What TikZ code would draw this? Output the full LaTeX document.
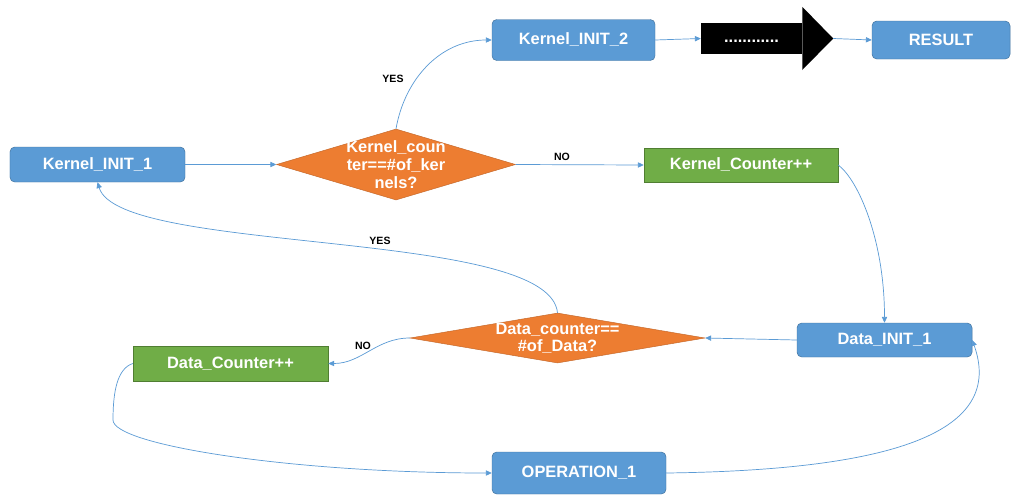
\documentclass[tikz,border=0pt]{standalone}
\usepackage{fontspec}
\setmainfont{Liberation Sans}
\usetikzlibrary{arrows.meta,shapes.geometric}
\definecolor{boxblue}{HTML}{5B9BD5}
\definecolor{boxblueline}{HTML}{41719C}
\definecolor{boxgreen}{HTML}{70AD47}
\definecolor{boxgreenline}{HTML}{507E32}
\definecolor{testorange}{HTML}{ED7D31}
\definecolor{testorangeline}{HTML}{C5682A}
\definecolor{flow}{HTML}{5B9BD5}
\newcommand{\boxfont}{\fontsize{14}{15.3}\selectfont\bfseries}

\begin{document}
\begin{tikzpicture}[x=0.03cm, y=-0.03cm,
  initbox/.style={draw=boxblueline, fill=boxblue, rounded corners=4pt, text=white, font=\boxfont, inner sep=0pt},
  countbox/.style={draw=boxgreenline, fill=boxgreen, text=white, font=\boxfont, inner sep=0pt},
  test/.style={diamond, draw=testorangeline, fill=testorange, inner sep=0pt},
  testtext/.style={text=white, font=\boxfont, align=center, inner sep=0pt},
  flowline/.style={draw=flow, line width=0.6pt, -{Triangle[length=5pt,width=4.5pt]}},
  answer/.style={font=\fontsize{9}{10}\selectfont\bfseries}]
  \fill[white] (0,0) rectangle (1018,495);

  % kernel loop
  \node[initbox, minimum width=5.25cm, minimum height=1.05cm] (k1) at (97.5,164.5) {Kernel\_INIT\_1};
  \node[test, minimum width=7.17cm, minimum height=2.13cm] (d1) at (396,164.5) {};
  \node[testtext] (d1txt) at (d1) {Kernel\_coun\\ter==\#of\_ker\\nels?};
  \node[initbox, minimum width=4.89cm, minimum height=1.23cm] (k2) at (573.5,40) {Kernel\_INIT\_2};
  \node[countbox, minimum width=5.82cm, minimum height=1.02cm] (kc) at (741,165) {Kernel\_Counter++};

  % block arrow to the result
  \node[fill=black, text=white, font=\boxfont, inner sep=0pt, minimum width=3.03cm, minimum height=0.93cm] (dots) at (751.5,38.5) {\strut............};
  \path (dots.east) ++(31,0) coordinate (dotstip);
  \fill[black] (dots.north east) -- ++(0,-16) -- (dotstip) -- ++(-31,31.5) -- (dots.south east) -- cycle;
  \node[initbox, minimum width=4.14cm, minimum height=1.14cm] (res) at (941,40) {RESULT};

  % data loop
  \node[initbox, minimum width=5.25cm, minimum height=1.02cm] (d1i) at (884.5,340) {Data\_INIT\_1};
  \node[test, minimum width=8.85cm, minimum height=1.5cm] (d2) at (557.5,338) {};
  \node[testtext, font=\fontsize{14}{14.5}\selectfont\bfseries] (d2txt) at (d2) {Data\_counter==\\\#of\_Data?};
  \node[countbox, minimum width=5.85cm, minimum height=1.05cm] (dc) at (230.5,363.5) {Data\_Counter++};
  \node[initbox, minimum width=5.22cm, minimum height=1.26cm] (op) at (579,473) {OPERATION\_1};
  \coordinate (dcbend) at (113,420);

  % connectors
  \draw[flowline] (k1.east) -- (d1.west);
  \draw[flowline] (d1.north) to[out=80,in=180] (k2.west);
  \draw[flowline] (d1.east) -- (kc.west);
  \draw[flowline] (k2.east) -- (dots.west);
  \draw[flowline] (dotstip) -- (res.west);
  \draw[flowline] (kc.east) .. controls +(20,15) and +(0,-83) .. (d1i.north);
  \draw[flowline] (d1i.west) -- (d2.east);
  \draw[flowline] (d2.north) .. controls +(-8,-85) and +(22,73) .. (k1.south);
  \draw[flowline] (d2.west) to[out=180,in=0] (dc.east);
  \draw[flowline] (dc.west) .. controls +(-15,5) and +(0,-30) .. (dcbend)
    .. controls +(0,25) and +(-200,0) .. (op.west);
  \draw[flowline] (op.east) .. controls +(234,-3) and +(32,90) .. (d1i.east);

  % answers
  \node[answer] (yes1) at (393,79) {YES};
  \node[answer] (no1) at (562,157) {NO};
  \node[answer] (yes2) at (380,241) {YES};
  \node[answer] (no2) at (363,346) {NO};
\end{tikzpicture}
\end{document}
